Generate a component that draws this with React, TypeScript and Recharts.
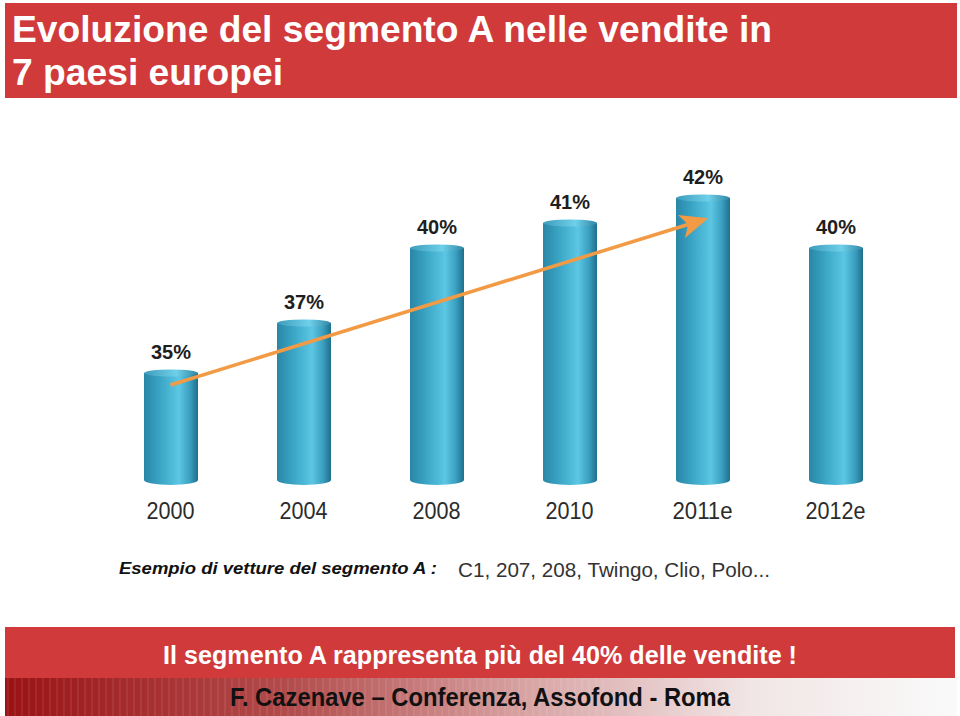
import { ComposedChart, Bar, Line, XAxis, YAxis, LabelList } from "recharts";

const years = ["2000", "2004", "2008", "2010", "2011e", "2012e"];
const shares = [35, 37, 40, 41, 42, 40];
// trend arrow: start and end only, joined with connectNulls
const trend = [34.4, null, null, null, 41.0, null];

const data = years.map((year, i) => ({ year, share: shares[i], trend: trend[i] }));

const NARROW = "'Liberation Sans Narrow', 'Arial Narrow', 'Liberation Sans', Arial, sans-serif";
const RED = "#d13a3a";
const ORANGE = "#f39a45";

function Cylinder(props: any) {
  const { x, y, width, height } = props;
  if (height == null || height <= 0) return null;
  const cx = x + width / 2;
  return (
    <g>
      <rect x={x} y={y + 3} width={width} height={height - 3} fill="url(#cyl)" />
      <ellipse cx={cx} cy={y + height} rx={width / 2} ry={5} fill="url(#cyl)" />
      <ellipse cx={cx} cy={y + 3} rx={width / 2} ry={3.5} fill="url(#cylTop)" />
    </g>
  );
}

// narrow-looking year labels
function YearTick(props: any) {
  const { x, y, payload } = props;
  const label = String(payload.value);
  return (
    <text
      x={x - (label.length * 12) / 2}
      y={y + 17}
      textLength={label.length * 12}
      lengthAdjust="spacingAndGlyphs"
      fontSize={24}
      fill="#2b2b2b"
      fontFamily={NARROW}
    >
      {label}
    </text>
  );
}

export default function App() {
  return (
    <div style={{ position: "absolute", left: 0, top: 0, width: 960, height: 716, background: "#fff", overflow: "hidden" }}>
      <svg width={960} height={716} style={{ position: "absolute", left: 0, top: 0 }}>
        <defs>
          <linearGradient id="foot" x1="0" y1="0" x2="1" y2="0">
            <stop offset="0" stopColor="#9a1214" />
            <stop offset="0.3" stopColor="#b34c4c" />
            <stop offset="0.55" stopColor="#d8a4a4" />
            <stop offset="0.78" stopColor="#f1e5e5" />
            <stop offset="1" stopColor="#fafafa" />
          </linearGradient>
          <pattern id="stripes" width="7" height="40" patternUnits="userSpaceOnUse">
            <rect x="0" y="0" width="2" height="40" fill="#ffffff" opacity="0.07" />
          </pattern>
        </defs>
        <rect x={5} y={3} width={952} height={95} fill={RED} />
        <text x={12} y={42} textLength={760} lengthAdjust="spacingAndGlyphs" fill="#fff" fontSize={36} fontWeight="bold" fontFamily={NARROW}>
          Evoluzione del segmento A nelle vendite in
        </text>
        <text x={12} y={85} textLength={271} lengthAdjust="spacingAndGlyphs" fill="#fff" fontSize={36} fontWeight="bold" fontFamily={NARROW}>
          7 paesi europei
        </text>

        <text x={119} y={574} textLength={318} lengthAdjust="spacingAndGlyphs" fill="#111" fontSize={17} fontWeight="bold" fontStyle="italic" fontFamily={NARROW}>
          Esempio di vetture del segmento A :
        </text>
        <text x={458} y={577} textLength={312} lengthAdjust="spacingAndGlyphs" fill="#333" fontSize={21} fontFamily={NARROW}>
          C1, 207, 208, Twingo, Clio, Polo...
        </text>

        <rect x={5} y={627} width={950} height={51} fill={RED} />
        <text x={163} y={664} textLength={634} lengthAdjust="spacingAndGlyphs" fill="#fff" fontSize={25} fontWeight="bold" fontFamily={NARROW}>
          Il segmento A rappresenta più del 40% delle vendite !
        </text>

        <rect x={5} y={678} width={952} height={38} fill="url(#foot)" />
        <rect x={5} y={678} width={600} height={38} fill="url(#stripes)" />
        <text x={230} y={706} textLength={500} lengthAdjust="spacingAndGlyphs" fill="#111" fontSize={25} fontWeight="bold" fontFamily={NARROW}>
          F. Cazenave – Conferenza, Assofond - Roma
        </text>
      </svg>

      <div style={{ position: "absolute", left: 0, top: 0 }}>
        <ComposedChart
          width={960}
          height={716}
          data={data}
          margin={{ top: 130, right: 58, left: 104, bottom: 176 }}
        >
          <defs>
            <linearGradient id="cyl" x1="0" y1="0" x2="1" y2="0">
              <stop offset="0" stopColor="#2a86a6" />
              <stop offset="0.3" stopColor="#3aa5c5" />
              <stop offset="0.65" stopColor="#5cc6e4" />
              <stop offset="0.85" stopColor="#3a9fc0" />
              <stop offset="1" stopColor="#1f6f8c" />
            </linearGradient>
            <linearGradient id="cylTop" x1="0" y1="0" x2="1" y2="0">
              <stop offset="0" stopColor="#3c9cbb" />
              <stop offset="0.6" stopColor="#6fd0ea" />
              <stop offset="1" stopColor="#2f86a4" />
            </linearGradient>
            <marker id="arrowHead" markerWidth="30" markerHeight="26" refX="22" refY="13" orient="auto" markerUnits="userSpaceOnUse">
              <path d="M0,1 L28,13 L0,25 L7,13 Z" fill={ORANGE} />
            </marker>
          </defs>
          <XAxis
            dataKey="year"
            axisLine={false}
            tickLine={false}
            height={60}
            tickMargin={16}
            tick={<YearTick />}
          />
          <YAxis hide domain={[30.6, 44.6]} />
          <Bar dataKey="share" barSize={54} shape={<Cylinder />} isAnimationActive={false}>
            <LabelList
              dataKey="share"
              position="top"
              offset={11}
              formatter={(v: any) => `${v}%`}
              style={{ fontSize: 20, fontWeight: "bold", fill: "#1e1e1e", fontFamily: "'Liberation Sans', Arial, sans-serif" }}
            />
          </Bar>
          <Line
            dataKey="trend"
            type="linear"
            connectNulls
            stroke={ORANGE}
            strokeWidth={3.5}
            dot={false}
            activeDot={false}
            markerEnd="url(#arrowHead)"
            isAnimationActive={false}
          />
        </ComposedChart>
      </div>
    </div>
  );
}
